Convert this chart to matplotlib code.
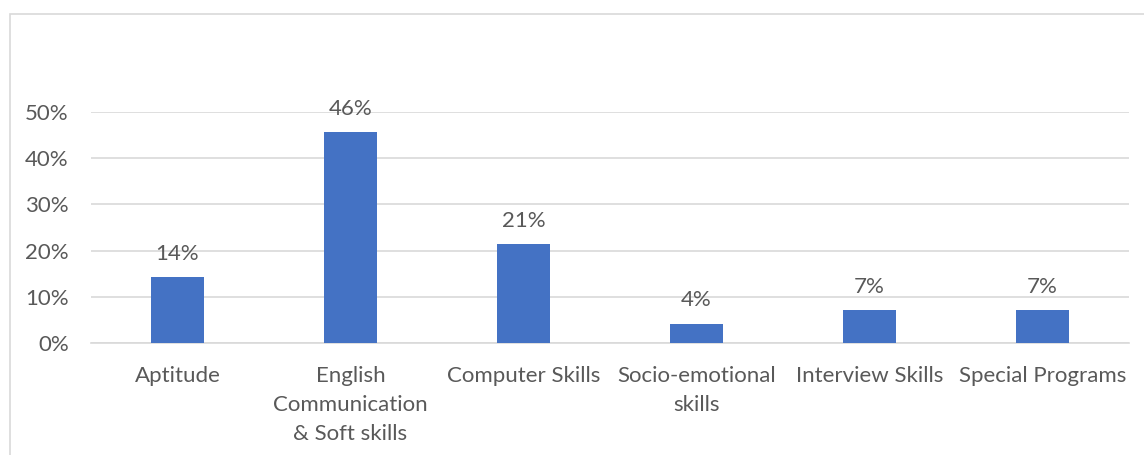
import matplotlib.pyplot as plt
import matplotlib.patches as patches
from matplotlib.ticker import PercentFormatter

# Data
categories = ['Aptitude', 'English\nCommunication\n& Soft skills', 'Computer Skills',
              'Socio-emotional\nskills', 'Interview Skills', 'Special Programs']
values = [0.143, 0.457, 0.214, 0.042, 0.071, 0.071]
labels = ['14%', '46%', '21%', '4%', '7%', '7%']

plt.rcParams['font.family'] = ['Lato', 'DejaVu Sans']
text_color = '#595959'
grid_color = '#D9D9D9'
fsize = 16

fig = plt.figure(figsize=(11.44, 4.55), dpi=100)

# Outer chart border (goes off the right and bottom edges)
W, H = 1144, 455
border = patches.Rectangle((10 / W, -0.1), 1.2, (H - 14) / H + 0.1,
                           transform=fig.transFigure, fill=False,
                           edgecolor=grid_color, linewidth=1.2)
fig.patches.append(border)

ax = fig.add_axes([91 / W, (H - 343) / H, (1129 - 91) / W, (343 - 112) / H])

x = range(len(categories))
ax.bar(x, values, width=0.31, color='#4472C4', zorder=3)

# Data labels above bars
for xi, v, lab in zip(x, values, labels):
    ax.annotate(lab, (xi, v), xytext=(0, 12.5), textcoords='offset points',
                ha='center', va='baseline', fontsize=fsize, color=text_color)

ax.set_xlim(-0.5, len(categories) - 0.5)
ax.set_ylim(0, 0.5)
ax.set_yticks([0, 0.1, 0.2, 0.3, 0.4, 0.5])
ax.yaxis.set_major_formatter(PercentFormatter(1.0, decimals=0))
ax.set_xticks(list(x))
ax.set_xticklabels(categories, fontsize=fsize, color=text_color, linespacing=1.57)
ax.tick_params(axis='y', labelsize=fsize, labelcolor=text_color, length=0, pad=16)
ax.tick_params(axis='x', length=0, pad=16.5)

ax.grid(axis='y', color=grid_color, linewidth=1.2, zorder=0)
for s in ['top', 'right', 'left']:
    ax.spines[s].set_visible(False)
ax.spines['bottom'].set_color(grid_color)
ax.spines['bottom'].set_linewidth(1.2)
ax.spines['bottom'].set_clip_on(False)

fig.savefig('out.png', dpi=100)
